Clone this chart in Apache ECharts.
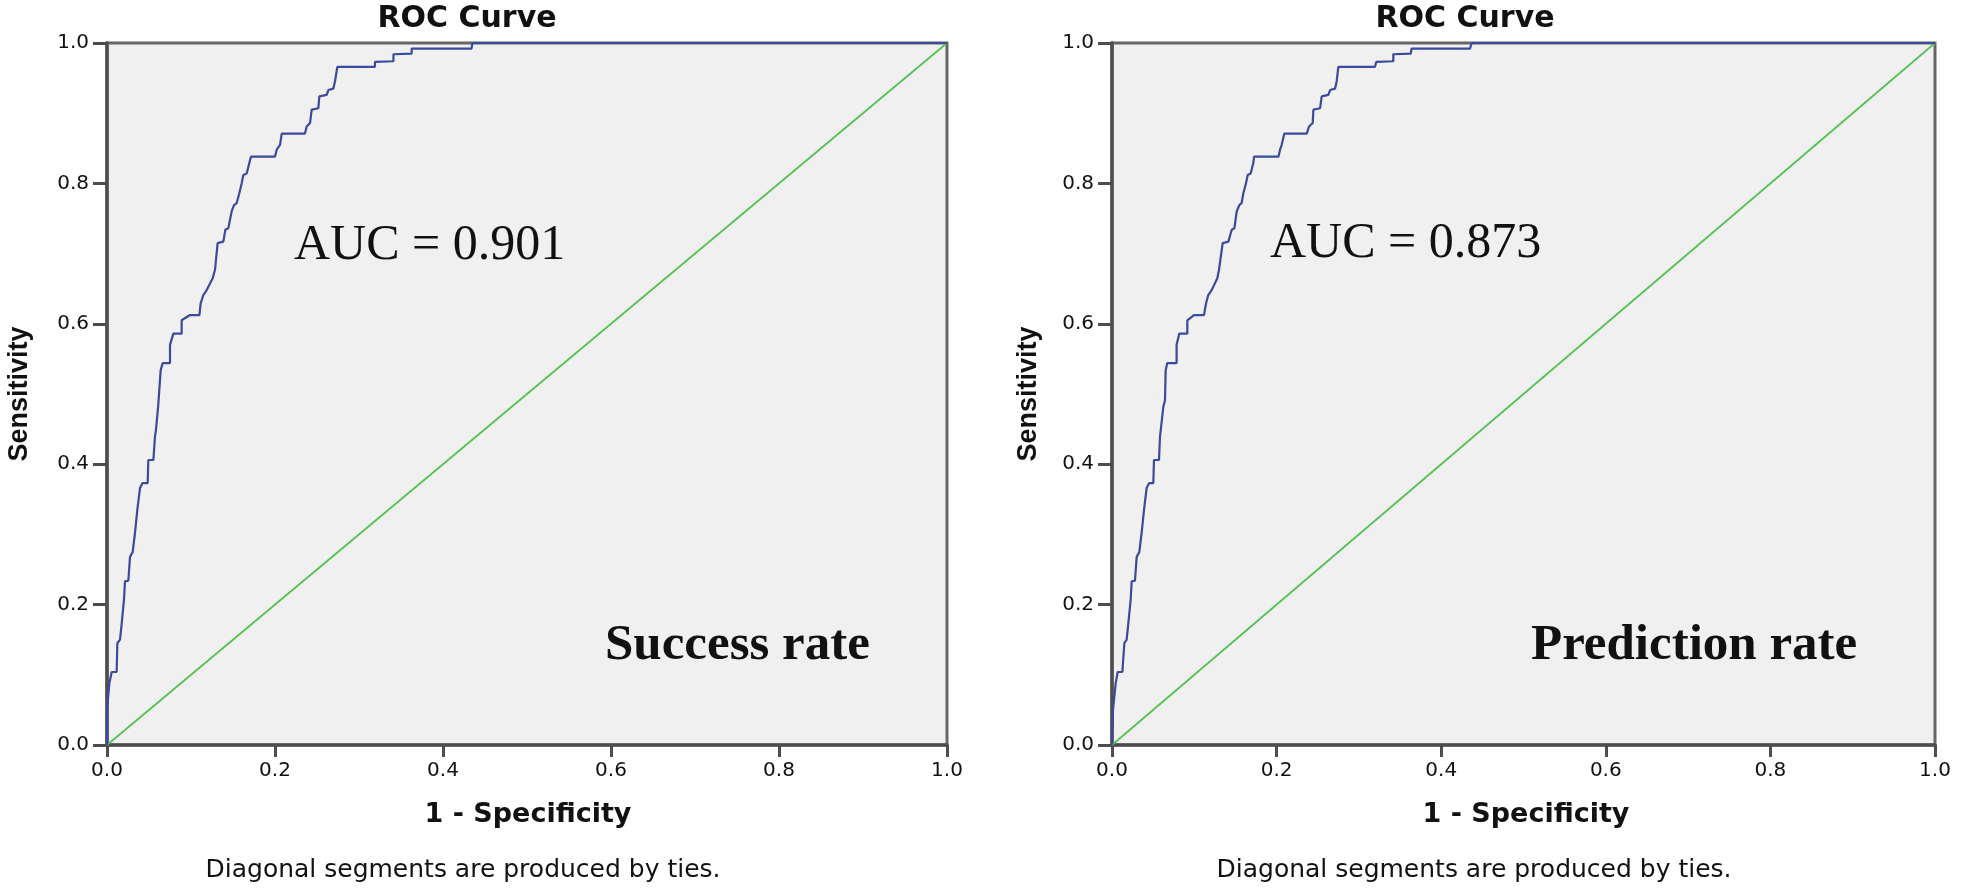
<!DOCTYPE html>
<html>
<head>
<meta charset="utf-8">
<script src="https://cdn.jsdelivr.net/npm/echarts@6/dist/echarts.min.js"></script>
<style>
  html, body { margin: 0; padding: 0; background: #ffffff; }
  #chart { width: 1961px; height: 894px; }
</style>
</head>
<body>
<div id="chart"></div>
<script>
// ---- Data ----
const tickValues = [0, 0.2, 0.4, 0.6, 0.8, 1.0];
const chartTitles = ['ROC Curve', 'ROC Curve'];
const xAxisName = '1 - Specificity';
const yAxisName = 'Sensitivity';
const footnote = 'Diagonal segments are produced by ties.';
const aucLabels = ['AUC = 0.901', 'AUC = 0.873'];
const panelLabels = ['Success rate', 'Prediction rate'];

// [1 - Specificity, Sensitivity] vertices of the ROC step curves
const successRoc = [
  [0, 0], [0, 0.05], [0.0028, 0.088], [0.0056, 0.104], [0.0115, 0.104],
  [0.0123, 0.145], [0.0155, 0.150], [0.0175, 0.173], [0.0202, 0.207],
  [0.0214, 0.233], [0.0254, 0.234], [0.0274, 0.268], [0.0306, 0.275],
  [0.0333, 0.302], [0.0361, 0.335], [0.0393, 0.366], [0.0421, 0.373],
  [0.0484, 0.373], [0.0492, 0.406], [0.0552, 0.406], [0.0571, 0.439],
  [0.0583, 0.449], [0.061, 0.484], [0.0639, 0.534], [0.0663, 0.544],
  [0.075, 0.544], [0.075, 0.570], [0.079, 0.586], [0.0889, 0.586],
  [0.0889, 0.605], [0.0988, 0.6125], [0.110, 0.6125], [0.1115, 0.629],
  [0.1147, 0.641], [0.1187, 0.648], [0.1258, 0.665], [0.1286, 0.677],
  [0.1317, 0.715], [0.1385, 0.717], [0.1409, 0.734], [0.1444, 0.736],
  [0.1484, 0.760], [0.1512, 0.769], [0.1544, 0.772], [0.1575, 0.786],
  [0.1603, 0.800], [0.1623, 0.812], [0.1663, 0.814], [0.1694, 0.829],
  [0.1714, 0.838], [0.200, 0.838], [0.202, 0.848], [0.206, 0.855],
  [0.208, 0.871], [0.2357, 0.871], [0.2377, 0.881], [0.2417, 0.886],
  [0.2437, 0.905], [0.2516, 0.907], [0.2528, 0.924], [0.2615, 0.926],
  [0.2635, 0.933], [0.2694, 0.935], [0.2714, 0.945], [0.2742, 0.966],
  [0.319, 0.966], [0.319, 0.973], [0.341, 0.974], [0.341, 0.984],
  [0.3627, 0.985], [0.3627, 0.992], [0.434, 0.992], [0.435, 1.0],
  [1.0, 1.0]
];

const predictionRoc = [
  [0, 0], [0.0012, 0.05], [0.0045, 0.088], [0.0069, 0.104], [0.0126, 0.104],
  [0.015, 0.145], [0.0178, 0.150], [0.0198, 0.173], [0.0227, 0.207],
  [0.0239, 0.233], [0.0279, 0.234], [0.030, 0.268], [0.0332, 0.275],
  [0.036, 0.302], [0.0389, 0.335], [0.0421, 0.366], [0.045, 0.373],
  [0.0502, 0.373], [0.051, 0.406], [0.0571, 0.406], [0.0583, 0.439],
  [0.0624, 0.482], [0.0644, 0.491], [0.0652, 0.534], [0.0672, 0.544],
  [0.0785, 0.544], [0.0785, 0.570], [0.0818, 0.586], [0.0915, 0.586],
  [0.0915, 0.605], [0.0996, 0.6125], [0.1118, 0.6125], [0.1142, 0.629],
  [0.117, 0.641], [0.1211, 0.648], [0.128, 0.665], [0.130, 0.677],
  [0.1345, 0.715], [0.1414, 0.717], [0.1455, 0.734], [0.1487, 0.736],
  [0.1515, 0.760], [0.1547, 0.769], [0.1575, 0.772], [0.1596, 0.786],
  [0.1628, 0.800], [0.1649, 0.812], [0.1685, 0.814], [0.1717, 0.829],
  [0.1726, 0.838], [0.2022, 0.838], [0.2042, 0.848], [0.2062, 0.855],
  [0.2094, 0.871], [0.2366, 0.871], [0.2394, 0.881], [0.2439, 0.886],
  [0.2447, 0.905], [0.2528, 0.907], [0.2548, 0.924], [0.2629, 0.926],
  [0.265, 0.933], [0.271, 0.935], [0.273, 0.945], [0.275, 0.966],
  [0.3196, 0.966], [0.321, 0.973], [0.3418, 0.974], [0.3418, 0.984],
  [0.363, 0.985], [0.364, 0.992], [0.435, 0.992], [0.437, 1.0],
  [1.0, 1.0]
];

const referenceLine = [[0, 0], [1, 1]];

// ---- Chart ----
const chart = echarts.init(document.getElementById('chart'), null, { renderer: 'canvas' });

const AXIS_COLOR = '#4d4d4d';
const grids = [
  { left: 107, top: 43, width: 840, height: 702 },
  { left: 1112, top: 43, width: 823, height: 702 }
];

function makeXAxis(i) {
  return {
    gridIndex: i, type: 'value', min: 0, max: 1, interval: 0.2,
    axisLine: { show: true, onZero: false, lineStyle: { color: AXIS_COLOR, width: 3.5 } },
    axisTick: { show: true, length: 12, lineStyle: { color: AXIS_COLOR, width: 3 } },
    axisLabel: {
      margin: 16, color: '#111', fontFamily: 'DejaVu Sans', fontSize: 20,
      formatter: v => v.toFixed(1)
    },
    splitLine: { show: false }
  };
}
function makeYAxis(i) {
  return {
    gridIndex: i, type: 'value', min: 0, max: 1, interval: 0.2,
    axisLine: { show: true, onZero: false, lineStyle: { color: AXIS_COLOR, width: 3.5 } },
    axisTick: { show: true, length: 14, lineStyle: { color: AXIS_COLOR, width: 3 } },
    axisLabel: {
      margin: 18, color: '#111', fontFamily: 'DejaVu Sans', fontSize: 20,
      formatter: v => v.toFixed(1)
    },
    splitLine: { show: false }
  };
}

const curveStyle = { color: '#3a4a9c', width: 2.2 };
const diagStyle = { color: '#55c255', width: 1.8 };

function txt(text, x, y, font, opts) {
  return Object.assign({
    type: 'text', x: x, y: y, silent: true, z: 100,
    style: Object.assign({
      text: text, font: font, fill: '#111',
      textAlign: 'center', textVerticalAlign: 'middle'
    }, (opts && opts.style) || {})
  }, (opts && opts.el) || {});
}

const titleFont = 'bold 30px "DejaVu Sans"';
const axisNameFont = 'bold 27px "DejaVu Sans"';
const yNameFont = 'bold 27px "Liberation Sans"';
const footFont = '25px "DejaVu Sans"';
const aucFont = '50px "Liberation Serif"';
const panelFont = 'bold 51px "Liberation Serif"';

chart.setOption({
  backgroundColor: '#ffffff',
  animation: false,
  grid: grids.map(g => Object.assign({
    show: true, backgroundColor: '#f0f0f0', borderColor: '#666666', borderWidth: 3,
    containLabel: false
  }, g)),
  xAxis: [makeXAxis(0), makeXAxis(1)],
  yAxis: [makeYAxis(0), makeYAxis(1)],
  series: [
    { type: 'line', xAxisIndex: 0, yAxisIndex: 0, data: referenceLine, showSymbol: false, lineStyle: diagStyle, z: 3 },
    { type: 'line', xAxisIndex: 0, yAxisIndex: 0, data: successRoc, showSymbol: false, lineStyle: curveStyle, z: 4 },
    { type: 'line', xAxisIndex: 1, yAxisIndex: 1, data: referenceLine, showSymbol: false, lineStyle: diagStyle, z: 3 },
    { type: 'line', xAxisIndex: 1, yAxisIndex: 1, data: predictionRoc, showSymbol: false, lineStyle: curveStyle, z: 4 }
  ],
  graphic: [
    txt(chartTitles[0], 467, 19, titleFont),
    txt(chartTitles[1], 1465, 19, titleFont),
    txt(xAxisName, 528, 815, axisNameFont),
    txt(xAxisName, 1526, 815, axisNameFont),
    txt(yAxisName, 20, 394, yNameFont, { el: { rotation: Math.PI / 2 } }),
    txt(yAxisName, 1029, 394, yNameFont, { el: { rotation: Math.PI / 2 } }),
    txt(footnote, 463, 870, footFont),
    txt(footnote, 1474, 870, footFont),
    txt(aucLabels[0], 294, 246, aucFont, { style: { textAlign: 'left' } }),
    txt(aucLabels[1], 1270, 244, aucFont, { style: { textAlign: 'left' } }),
    txt(panelLabels[0], 605, 646, panelFont, { style: { textAlign: 'left' } }),
    txt(panelLabels[1], 1531, 646, panelFont, { style: { textAlign: 'left' } })
  ]
});
</script>
</body>
</html>
